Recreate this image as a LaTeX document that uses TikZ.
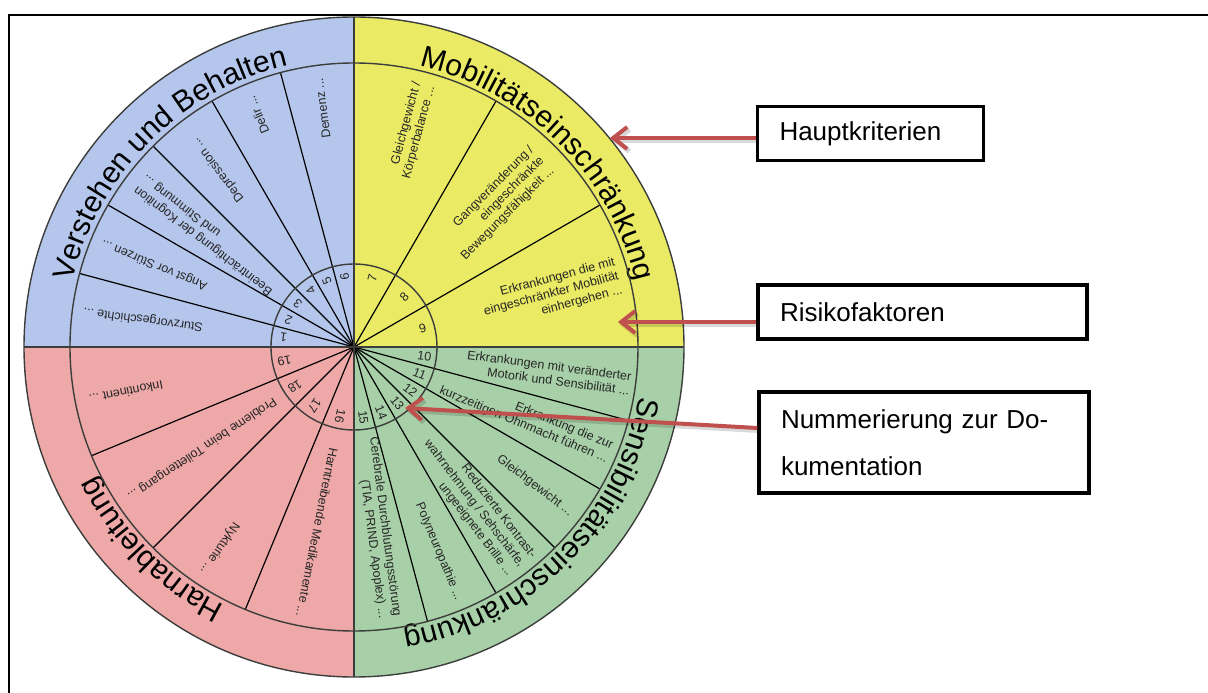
\documentclass[tikz,border=0pt]{standalone}
\usepackage{fontspec}
\setmainfont{Liberation Sans}
\usetikzlibrary{arrows.meta,decorations.text}
\definecolor{qblue}{RGB}{181,198,236}
\definecolor{qyellow}{RGB}{234,234,100}
\definecolor{qred}{RGB}{238,168,168}
\definecolor{qgreen}{RGB}{168,208,168}
\definecolor{arrowred}{RGB}{192,80,77}
\definecolor{ringgray}{RGB}{60,62,60}

\begin{document}
\begin{tikzpicture}[x=1pt,y=1pt,
  ring/.style={draw=ringgray, line width=1.4pt},
  spoke/.style={draw=black, line width=1.2pt},
  item/.style={font=\fontsize{12.5}{14.5}\selectfont, text=black!85, align=right, inner sep=0pt, anchor=east},
  num/.style={font=\fontsize{12.5}{12.5}\selectfont, text=black!85, inner sep=0pt},
  bandtitle/.style={decorate, decoration={text along path, text align=center,
      text={|\fontsize{30}{30}\selectfont|#1}}},
  infobox/.style={draw=black, line width=3.5pt, align=left, inner xsep=22pt,
      inner ysep=0pt, font=\fontsize{26}{47}\selectfont, fill=white},
  pointer/.style={draw=arrowred, line width=4pt, -{Straight Barb[length=14pt,width=22pt]}},
  pointershadow/.style={draw=black, opacity=0.15, line width=5pt,
      -{Straight Barb[length=14pt,width=22pt]}}
]
\useasboundingbox (-354,-346) rectangle (854,347);

% page frame (top and left rules)
\draw[line width=2.2pt] (-345,-346) -- (-345,332) -- (854,332);

% quadrant fills
\fill[qblue]   (0,0) -- (180:330) arc[start angle=180, end angle=90,  radius=330] -- cycle;
\fill[qyellow] (0,0) -- (90:330)  arc[start angle=90,  end angle=0,   radius=330] -- cycle;
\fill[qgreen]  (0,0) -- (0:330)   arc[start angle=0,   end angle=-90, radius=330] -- cycle;
\fill[qred]    (0,0) -- (270:330) arc[start angle=270, end angle=180, radius=330] -- cycle;

% main criteria written along the outer band
\path[bandtitle={Verstehen und Behalten}]     (180:289) arc[start angle=180, end angle=90,  radius=289];
\path[bandtitle={Mobilitätseinschränkung}]    (90:289)  arc[start angle=90,  end angle=0,   radius=289];
\path[bandtitle={Sensibilitätseinschränkung}] (0:289)   arc[start angle=0,   end angle=-90, radius=289];
\path[bandtitle={Harnableitung}]              (270:289) arc[start angle=270, end angle=180, radius=289];

% sector spokes
\foreach \a in {105,120,135,150,165,30,60,285,300,315,330,345,202.5,225,247.5}
  \draw[spoke] (0,0) -- (\a:284);

% rings
\draw[ring] (0,0) circle[radius=83];
\draw[ring] (0,0) circle[radius=284];
\draw[ring] (0,0) circle[radius=330];
\draw[ring] (-330,0) -- (330,0);
\draw[ring] (0,-330) -- (0,330);

% numbering
\foreach \i/\a in {1/172.5,2/157.5,3/142.5,4/127.5,5/112.5,6/97.5,
                   7/75,8/45,9/15,
                   10/352.5,11/337.5,12/322.5,13/307.5,14/292.5,15/277.5,
                   16/258.75,17/236.25,18/213.75,19/191.25}
  \node[num, rotate=\a] (n\i) at (\a:71) {\i};

% risk factors
\node[item, rotate=172.5] (r1) at (172.5:273) {Sturzvorgeschichte ...};
\node[item, rotate=157.5] (r2) at (157.5:273) {Angst vor Stürzen ...};
\node[item, rotate=142.5] (r3) at (142.5:270) {Beeinträchtigung der Kognition\\und Stimmung ...};
\node[item, rotate=127.5] (r4) at (127.5:262) {Depression ...};
\node[item, rotate=112.5] (r5) at (112.5:271) {Delir ...};
\node[item, rotate=97.5]  (r6) at (97.5:271)  {Demenz ...};
\node[item, rotate=75]    (r7) at (75:272)    {Gleichgewicht /\\Körperbalance ...};
\node[item, rotate=45]    (r8) at (45:266)    {Gangveränderung /\\eingeschränkte\\Bewegungsfähigkeit ...};
\node[item, rotate=15]    (r9) at (15:274)    {Erkrankungen die mit\\eingeschränkter Mobilität\\einhergehen ...};
\node[item, rotate=352.5] (r10) at (352.5:279) {Erkrankungen mit veränderter\\Motorik und Sensibilität ...};
\node[item, rotate=337.5] (r11) at (337.5:277) {Erkrankung die zur\\kurzzeitigen Ohnmacht führen ...};
\node[item, rotate=322.5] (r12) at (322.5:274) {Gleichgewicht ...};
\node[item, rotate=307.5] (r13) at (307.5:276) {Reduzierte Kontrast-\\wahrnehmung / Sehschärfe,\\ungeeignete Brille ...};
\node[item, rotate=292.5] (r14) at (292.5:274) {Polyneuropathie ...};
\node[item, rotate=277.5] (r15) at (277.5:273) {Cerebrale Durchblutungsstörung\\(TIA, PRIND, Apoplex) ...};
\node[item, rotate=258.75] (r16) at (258.75:275) {Harntreibende Medikamente ...};
\node[item, rotate=236.25] (r17) at (236.25:272) {Nykturie ...};
\node[item, rotate=213.75] (r18) at (213.75:271) {Probleme beim Toilettengang ...};
\node[item, rotate=191.25] (r19) at (191.25:270) {Inkontinent ...};

% legend boxes
\node[infobox, text width=182pt, minimum height=54pt]  (bA) at (516.5,213.5) {Hauptkriterien};
\node[infobox, text width=285pt, minimum height=54pt]  (bB) at (568.5,35)    {Risikofaktoren};
\node[infobox, text width=286pt, minimum height=101pt] (bC) at (570,-95.5)   {Nummerierung zur Do-\\kumentation};

% pointers
\coordinate (tA) at (256,209);
\coordinate (tB) at (264,25);
\coordinate (tC) at (51,-61);
\begin{scope}[transform canvas={shift={(1.5pt,-2.5pt)}}]
  \draw[pointershadow] ([yshift=-4.5pt]bA.west) -- (tA);
  \draw[pointershadow] ([yshift=-10pt]bB.west) -- (tB);
  \draw[pointershadow] ([yshift=14.5pt]bC.west) -- (tC);
\end{scope}
\draw[pointer] ([yshift=-4.5pt]bA.west) -- (tA);
\draw[pointer] ([yshift=-10pt]bB.west) -- (tB);
\draw[pointer] ([yshift=14.5pt]bC.west) -- (tC);
\end{tikzpicture}
\end{document}
